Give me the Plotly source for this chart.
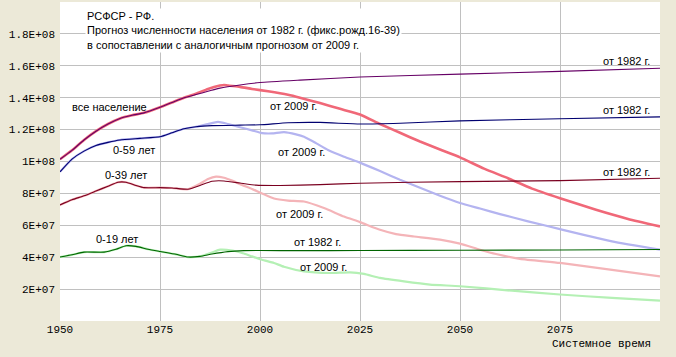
import plotly.graph_objects as go

# ---- data (millions of people) ----
tot82_x = [1950, 1953, 1956, 1959, 1962, 1965, 1968, 1971, 1975, 1978, 1981, 1984, 1987, 1990, 1995, 2000, 2010, 2025, 2050, 2075, 2100]
tot82_y = [101.4, 107, 113.5, 119, 123.5, 127, 129, 130.5, 134, 137, 140, 142, 144, 146, 148, 149.5, 151, 153, 154.8, 156.5, 158.5]

tot09_x = [1950, 1953, 1956, 1959, 1962, 1965, 1968, 1971, 1975, 1978, 1981, 1984, 1987, 1990, 1991, 1992, 1995, 1998, 2002, 2007, 2010, 2015, 2020, 2025, 2030, 2035, 2040, 2045, 2050, 2056, 2062, 2068, 2075, 2084, 2092, 2100]
tot09_y = [101.4, 107, 113.5, 119, 123.5, 127, 129, 130.5, 134, 137, 140, 142.5, 145.5, 147.6, 148, 147.6, 146.8, 145.5, 144, 141.8, 140, 136.6, 133, 129.5, 123.5, 118, 112.5, 107.5, 102.6, 95.5, 89.5, 83, 77, 69.7, 64, 59.3]

a59_82_x = [1950, 1953, 1956, 1959, 1962, 1965, 1970, 1975, 1978, 1981, 1984, 1988, 1995, 2000, 2007, 2015, 2025, 2035, 2050, 2075, 2100]
a59_82_y = [93.5, 101.5, 106.5, 110, 112, 113.5, 114.5, 115.5, 118, 120.5, 121.8, 122.5, 122.8, 123, 124.3, 124.5, 123.5, 124, 125.5, 126.8, 128]

a59_09_x = [1950, 1953, 1956, 1959, 1962, 1965, 1970, 1975, 1978, 1981, 1984, 1987, 1989.5, 1992, 1995, 1998, 2000.5, 2003, 2006, 2009, 2011, 2014, 2017, 2021, 2025, 2030, 2035, 2040, 2045, 2050, 2055, 2060, 2067, 2075, 2088, 2100]
a59_09_y = [93.5, 101.5, 106.5, 110, 112, 113.5, 114.5, 115.5, 118, 120.5, 121.8, 123.5, 124.8, 123.5, 121.5, 119.5, 117.8, 117.6, 118.4, 117, 115.5, 111.5, 107.2, 103, 99.3, 94, 88.5, 83.5, 78.5, 74, 70.5, 67, 62.5, 57.6, 49.9, 44.7]

a39_82_x = [1950, 1953, 1956, 1959, 1962, 1964.5, 1966.5, 1969, 1971, 1975, 1978, 1982, 1985, 1988, 1991, 1995, 1999, 2005, 2015, 2025, 2050, 2075, 2100]
a39_82_y = [72.8, 76, 78.5, 81.5, 84.5, 87, 87, 85, 83.6, 83.6, 83.4, 82.6, 85, 87.6, 87.8, 86.5, 85.2, 85, 85.5, 86.4, 87.4, 88, 89.5]

a39_09_x = [1950, 1953, 1956, 1959, 1962, 1964.5, 1966.5, 1969, 1971, 1975, 1978, 1982, 1985, 1987, 1989, 1991, 1993, 1995.5, 1998, 2000.5, 2003.5, 2007, 2011, 2016, 2021, 2025, 2030, 2034, 2038.5, 2045, 2050, 2055, 2059, 2065, 2075, 2088, 2100]
a39_09_y = [72.8, 76, 78.5, 81.5, 84.5, 87, 87, 85, 83.6, 83.6, 83.4, 82.6, 86, 89, 90.5, 89.8, 88, 85.3, 82.8, 80, 76.8, 75.5, 74.9, 70.8, 65.5, 62, 57.2, 54.5, 53, 51, 48.5, 44.7, 42, 39, 36.4, 32, 28]

a19_82_x = [1950, 1953, 1956, 1961, 1964, 1966.5, 1969, 1972, 1975, 1979, 1982, 1985, 1988, 1992, 1996, 2000, 2010, 2025, 2050, 2075, 2100]
a19_82_y = [40.1, 41.5, 43.2, 43.2, 45, 47.2, 46.8, 45, 43.6, 41.8, 40.1, 40.5, 42, 43.5, 44.1, 44.2, 44.1, 44.2, 44.4, 44.5, 44.8]

a19_09_x = [1950, 1953, 1956, 1961, 1964, 1966.5, 1969, 1972, 1975, 1979, 1982, 1985, 1988, 1990, 1993, 1995.5, 1998, 2000.5, 2003.5, 2006, 2011, 2017.5, 2022.5, 2026, 2030, 2036, 2042.5, 2050, 2063, 2075, 2088, 2100]
a19_09_y = [40.1, 41.5, 43.2, 43.2, 45, 47.2, 46.8, 45, 43.6, 41.8, 40.1, 40.5, 43, 44.7, 44.2, 42.6, 40.5, 38.4, 36.4, 34, 31.1, 30.1, 30.5, 29.5, 27, 24.8, 22.8, 21.8, 19, 16.6, 14.5, 12.8]

y_tickvals = [20e6, 40e6, 60e6, 80e6, 100e6, 120e6, 140e6, 160e6, 180e6]
y_ticktext = ["2E+07", "4E+07", "6E+07", "8E+07", "1E+08", "1.2E+08", "1.4E+08", "1.6E+08", "1.8E+08"]
x_tickvals = [1950, 1975, 2000, 2025, 2050, 2075]

M = 1e6
def sc(v):
    return [x * M for x in v]

def line(xs, ys, color, width):
    return go.Scatter(x=xs, y=sc(ys), mode="lines", hoverinfo="skip",
                      line=dict(color=color, width=width, shape="spline", smoothing=0.5))

fig = go.Figure()
# 2009 forecasts (light, drawn underneath)
fig.add_trace(line(a19_09_x, a19_09_y, "#B4F0B4", 2.2))
fig.add_trace(line(a39_09_x, a39_09_y, "#F4B4B8", 2.2))
fig.add_trace(line(a59_09_x, a59_09_y, "#B4B4F0", 2.2))
fig.add_trace(line(tot09_x, tot09_y, "#F06878", 2.6))
# 1982 forecasts (dark, thin)
fig.add_trace(line(a19_82_x, a19_82_y, "#006400", 1.1))
fig.add_trace(line(a39_82_x, a39_82_y, "#7A0020", 1.1))
fig.add_trace(line(a59_82_x, a59_82_y, "#000070", 1.1))
fig.add_trace(line(tot82_x, tot82_y, "#660066", 1.1))

TF = dict(family="Liberation Sans, Arial", size=11, color="#000000")
ann = []
ann.append(dict(x=1956.2, y=196e6, xanchor="left", yanchor="top", align="left",
                text="РСФСР - РФ.<br>Прогноз численности населения от 1982 г. (фикс.рожд.16-39)<br>в сопоставлении с аналогичным прогнозом от 2009 г.",
                bgcolor="#FFFFFF", borderpad=1, showarrow=False, font=TF))
labels = [
    ("все население", 1952.5, 134.0e6, "left"),
    ("0-59 лет", 1962.7, 107.2e6, "left"),
    ("0-39 лет", 1960.7, 91.6e6, "left"),
    ("0-19 лет", 1958.6, 51.4e6, "left"),
    ("от 2009 г.", 2002.1, 134.7e6, "left"),
    ("от 2009 г.", 2003.9, 106.1e6, "left"),
    ("от 2009 г.", 2003.6, 67.2e6, "left"),
    ("от 1982 г.", 2008.0, 49.3e6, "left"),
    ("от 2009 г.", 2009.6, 33.9e6, "left"),
    ("от 1982 г.", 2097.9, 163.0e6, "right"),
    ("от 1982 г.", 2097.9, 132.2e6, "right"),
    ("от 1982 г.", 2097.9, 93.6e6, "right"),
]
for t, x, y, xa in labels:
    ann.append(dict(x=x, y=y, text=t, xanchor=xa, yanchor="middle", showarrow=False, font=TF))
ann.append(dict(xref="paper", yref="paper", x=0.988, y=-0.073, xanchor="right", yanchor="middle",
                text="Системное время", showarrow=False,
                font=dict(family="Liberation Mono, Courier New", size=11, color="#000000")))

fig.update_layout(
    width=676, height=357,
    margin=dict(l=60, r=16, t=2, b=36),
    paper_bgcolor="#ECE9D8", plot_bgcolor="#FFFFFF",
    showlegend=False,
    annotations=ann,
    font=dict(family="Liberation Mono, Courier New", size=11, color="#000000"),
)
fig.update_xaxes(range=[1950, 2100], tickvals=x_tickvals, ticks="", showgrid=True,
                 gridcolor="#C0C0C0", gridwidth=1, zeroline=False, showline=False,
                 tickfont=dict(family="Liberation Mono, Courier New", size=11, color="#000000"))
fig.update_yaxes(range=[0, 200e6], tickvals=y_tickvals, ticktext=y_ticktext, ticks="",
                 showgrid=True, gridcolor="#C0C0C0", gridwidth=1, zeroline=False, showline=False,
                 ticklabelstandoff=4,
                 tickfont=dict(family="Liberation Mono, Courier New", size=11, color="#000000"))

fig.write_html("out.html", config={"displayModeBar": False},
               post_script="document.body.style.margin='0px';document.body.style.background='#ECE9D8';")
